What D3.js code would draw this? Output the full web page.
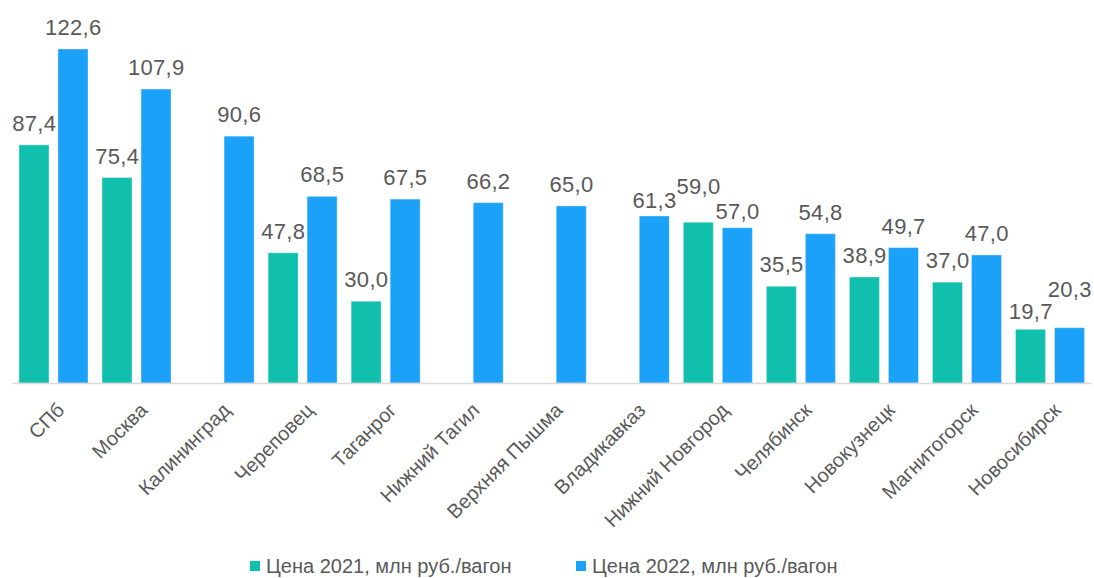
<!DOCTYPE html>
<html><head><meta charset="utf-8">
<script src="https://cdn.jsdelivr.net/npm/d3@7"></script>
<style>
html,body{margin:0;padding:0;background:#fff;}
svg{display:block;font-family:"Liberation Sans",Arial,sans-serif;}
</style></head>
<body><svg id="c" width="1094" height="578"></svg>
<script>
const categories = ["СПб","Москва","Калининград","Череповец","Таганрог","Нижний Тагил","Верхняя Пышма","Владикавказ","Нижний Новгород","Челябинск","Новокузнецк","Магнитогорск","Новосибирск"];
const seriesNames = ["Цена 2021, млн руб./вагон","Цена 2022, млн руб./вагон"];
const price2021 = [87.4,75.4,null,47.8,30.0,null,null,null,59.0,35.5,38.9,37.0,19.7];
const price2022 = [122.6,107.9,90.6,68.5,67.5,66.2,65.0,61.3,57.0,54.8,49.7,47.0,20.3];

// layout / style (not data)
const colors = ["#10BFAC","#1CA1F9"];
const labelNudge = {"7|1":6,"8|0":-14,"8|1":5,"12|0":4,"12|1":-17};

const svg = d3.select("#c");
const x0 = d3.scaleBand().domain(categories).range([12,1091.5]).paddingInner(0.169).paddingOuter(0.084);
const x1 = d3.scaleBand().domain([0,1]).range([0,x0.bandwidth()]).paddingInner(0.2308).paddingOuter(0);
const y = d3.scaleLinear().domain([0,122.6]).range([383,49]);

const rows = [];
categories.forEach((c,i)=>{
  [price2021[i],price2022[i]].forEach((v,s)=>{ if(v!=null) rows.push({c,i,s,v}); });
});

const fmt = v => d3.format(".1f")(v).replace(".",",");

svg.append("g").selectAll("rect").data(rows).join("rect")
  .attr("x",d=>x0(d.c)+x1(d.s))
  .attr("y",d=>y(d.v))
  .attr("width",x1.bandwidth())
  .attr("height",d=>y(0)-y(d.v))
  .attr("fill",d=>colors[d.s])
  .attr("stroke","#ffffff").attr("stroke-opacity",0.35).attr("stroke-width",1);

// axis line
const xAxis = d3.axisBottom(x0).tickSize(0).tickFormat("");
const ax = svg.append("g").attr("transform",`translate(0,${y(0)})`).call(xAxis);
ax.select(".domain").attr("stroke","#D9D9D9").attr("stroke-width",1.3);

// category labels
svg.append("g").selectAll("text").data(categories).join("text")
  .attr("transform",d=>`translate(${x0(d)+x0.bandwidth()/2+12},${y(0)+28.5}) rotate(-45)`)
  .attr("text-anchor","end")
  .attr("font-size",20)
  .attr("fill","#595959")
  .text(d=>d);

// value labels
svg.append("g").selectAll("text").data(rows).join("text")
  .attr("x",d=>x0(d.c)+x1(d.s)+x1.bandwidth()/2+0.2)
  .attr("y",d=>y(d.v)-14+(labelNudge[d.i+"|"+d.s]||0))
  .attr("text-anchor","middle")
  .attr("font-size",22)
  .attr("letter-spacing",0.3)
  .attr("fill","#595959")
  .text(d=>fmt(d.v));

// legend
const legX = [250,576];
const lg = svg.append("g").selectAll("g").data(seriesNames).join("g")
  .attr("transform",(d,i)=>`translate(${legX[i]},561)`);
lg.append("rect").attr("width",10).attr("height",10).attr("fill",(d,i)=>colors[i]);
lg.append("text").attr("x",16).attr("y",12).attr("font-size",20).attr("fill","#595959").text(d=>d);
</script></body></html>
